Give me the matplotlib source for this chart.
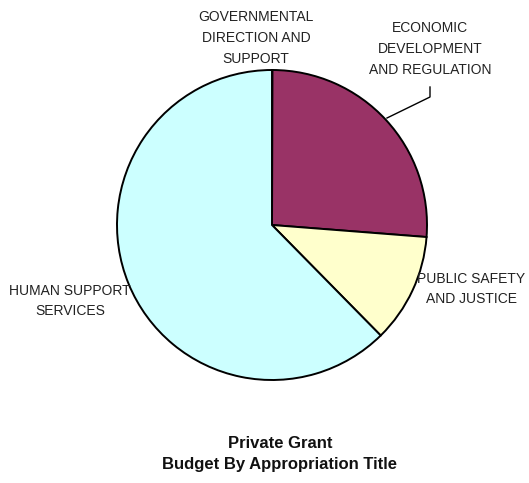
import matplotlib.pyplot as plt
from matplotlib import font_manager

names = ["GOVERNMENTAL\nDIRECTION AND\nSUPPORT",
         "ECONOMIC\nDEVELOPMENT\nAND REGULATION",
         "PUBLIC SAFETY\nAND JUSTICE",
         "HUMAN SUPPORT\nSERVICES"]
shares = [0.05, 26.2, 11.4, 62.4]
colors = ["#ccffff", "#993366", "#ffffcc", "#ccffff"]

installed = {f.name for f in font_manager.fontManager.ttflist}
fam = "Liberation Sans Narrow" if "Liberation Sans Narrow" in installed else "Liberation Sans"
plt.rcParams['font.family'] = [fam, 'DejaVu Sans']

W, H = 529, 483
fig = plt.figure(figsize=(W/100, H/100), dpi=100)
ax = fig.add_axes([0, 0, 1, 1])

# pie drawn in pixel-like coordinates (y axis inverted, so flip direction)
wedges, _ = ax.pie(shares, colors=colors, startangle=-90, counterclock=True,
                   center=(272, 225), radius=155, frame=True,
                   wedgeprops=dict(edgecolor="black", linewidth=1.4))
ax.set_xlim(0, W)
ax.set_ylim(H, 0)
ax.set_aspect('equal')
ax.axis('off')

txt = dict(fontsize=10, color="#222222", ha="center", va="center", linespacing=1.6)
ax.text(256, 38, names[0], **txt)
ax.text(430, 49, names[1], **txt)
ax.text(471, 289, names[2], **txt)
ax.text(70, 301, names[3], **txt)

# leader line for economic development
ax.plot([430, 430, 387], [87, 97, 118], color="black", linewidth=1)

ax.text(280, 454, "Private Grant\nBudget By Appropriation Title", fontsize=12,
        fontweight="bold", ha="center", va="center", linespacing=1.45, color="#111111")

fig.savefig("out.png", dpi=100)
